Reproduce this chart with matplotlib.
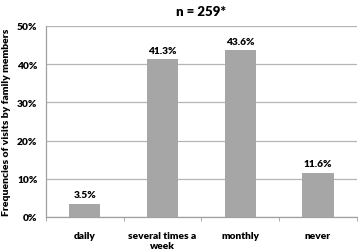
import matplotlib.pyplot as plt
import numpy as np

# data
categories = ["daily", "several times a\nweek", "monthly", "never"]
values = [3.5, 41.3, 43.6, 11.6]
y_ticks = [0, 10, 20, 30, 40, 50]

plt.rcParams['font.family'] = ['Lato', 'DejaVu Sans']
plt.rcParams['font.weight'] = 'bold'

fig = plt.figure(figsize=(3.58, 2.51), dpi=100)
ax = fig.add_axes([0.128, 0.1315, 0.869, 0.761])

x = np.arange(len(categories))
ax.bar(x, values, width=0.4, color="#a6a6a6", zorder=3)

for xi, v in zip(x, values):
    ax.text(xi, v + 1.2, f"{v:.1f}%", ha="center", va="bottom",
            fontsize=7.3, fontweight="heavy")

ax.set_xlim(-0.5, len(categories) - 0.5)
ax.set_ylim(0, 50)
ax.set_yticks(y_ticks)
ax.set_yticklabels([f"{t}%" for t in y_ticks], fontsize=7.3, fontweight="heavy")
ax.yaxis.grid(True, color="#b4b4b4", linewidth=0.9, zorder=0)
ax.tick_params(axis="y", length=0, pad=6)

# category labels, ticks between the categories
ax.set_xticks(x)
ax.set_xticklabels(categories, fontsize=7.3, fontweight="heavy")
ax.tick_params(axis="x", which="major", length=0, pad=10)
ax.set_xticks(np.arange(-0.5, len(categories)), minor=True)
ax.tick_params(axis="x", which="minor", length=3, color="#a0a0a0", direction="out")

for side in ["top", "right"]:
    ax.spines[side].set_visible(False)
for side in ["left", "bottom"]:
    ax.spines[side].set_color("#a0a0a0")
    ax.spines[side].set_linewidth(0.9)

ax.set_ylabel("Frequencies of visits by family members", fontsize=7.5,
              fontweight="heavy", labelpad=4)
ax.set_title("n = 259*", fontsize=9.5, fontweight="heavy", pad=8)

fig.savefig("out.png", dpi=100)
